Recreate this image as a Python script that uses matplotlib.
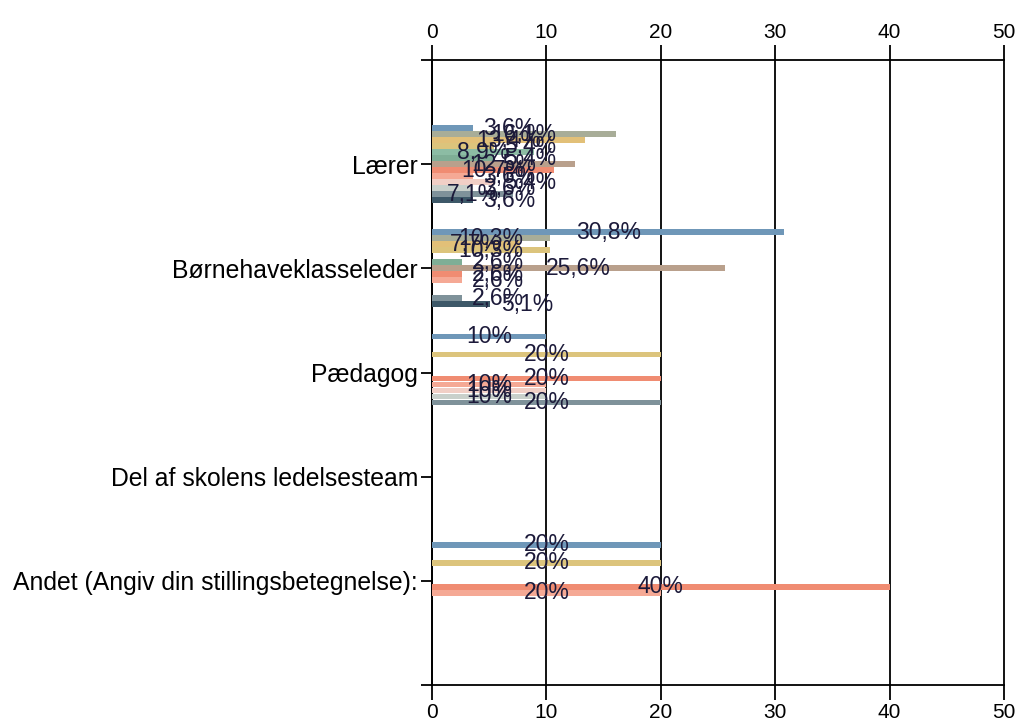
import matplotlib
matplotlib.use("Agg")
import matplotlib.pyplot as plt
from matplotlib.ticker import FixedLocator
import numpy as np

plt.rcParams['font.family'] = ['Liberation Sans', 'DejaVu Sans']

categories = ["Lærer", "Børnehaveklasseleder", "Pædagog",
              "Del af skolens ledelsesteam",
              "Andet (Angiv din stillingsbetegnelse):"]

# percent per answer option (13 series), one list per category
laerer = [3.6, 16.1, 13.4, 5.4, 8.9, 5.4, 12.5, 10.7, 3.6, 5.4, 3.6, 7.1, 3.6]
bhkl = [30.8, 10.3, 7.7, 10.3, 0, 2.6, 25.6, 2.6, 2.6, 0, 0, 2.6, 5.1]
paedagog = [10, 0, 0, 20, 0, 0, 0, 20, 10, 10, 10, 20, 0]
ledelse = [0, 0, 0, 0, 0, 0, 0, 0, 0, 0, 0, 0, 0]
andet = [20, 0, 0, 20, 0, 0, 0, 40, 20, 0, 0, 0, 0]

colors = ["#6f97b8", "#a8ad98", "#e2c078", "#dcc47c", "#8cbca4", "#7fae96",
          "#b9a08c", "#f08c72", "#f5a995", "#f1cfc6", "#c9d0cb", "#7f929a",
          "#3d5868"]

xticks = [0, 10, 20, 30, 40, 50]

data = [laerer, bhkl, paedagog, ledelse, andet]
nser = len(colors)
step = 0.0576
barh = 0.056
txtc = "#1c1a3a"

fig = plt.figure(figsize=(10.21, 7.22), dpi=100)
ax = fig.add_axes([0.4231, 0.0512, 0.5603, 0.8657])

for ci, vals in enumerate(data):
    yc = ci + 1
    for k in range(nser):
        v = vals[k]
        if v <= 0:
            continue
        y = yc + (k - 6) * step
        ax.barh(y, v, height=barh, color=colors[k], zorder=3, linewidth=0)
    for k in range(nser):
        v = vals[k]
        if v <= 0:
            continue
        y = yc + (k - 6) * step
        lab = (f"{v:.1f}".replace(".", ",") if v != int(v) else f"{int(v)}") + "%"
        if v >= 6:
            ax.text(v / 2, y, lab, ha="center", va="center", fontsize=16.5,
                    color=txtc, zorder=5)
        else:
            ax.text(v + 0.9, y, lab, ha="left", va="center", fontsize=16.5,
                    color=txtc, zorder=5)

ax.set_xlim(0, 50)
ax.set_ylim(6, 0)
ax.set_xticks(xticks)
ax.xaxis.set_ticks_position("both")
ax.tick_params(axis="x", which="both", top=True, bottom=True, labeltop=True,
               labelbottom=True, length=11, width=1.3, labelsize=15, pad=2,
               direction="out", color="black")
ax.set_yticks(range(1, 6))
ax.set_yticklabels(categories)
ax.yaxis.set_minor_locator(FixedLocator([0, 6]))
ax.tick_params(axis="y", which="both", length=8, width=1.3, labelsize=17.8, pad=2)

ax.grid(axis="x", color="black", linewidth=1.3, zorder=1)
for gl in ax.get_xgridlines():
    gl.set_clip_on(False)
for s in ["left", "top", "bottom"]:
    ax.spines[s].set_linewidth(1.3)
    ax.spines[s].set_color("black")
ax.spines["right"].set_visible(False)

fig.savefig("out.png", dpi=100)
